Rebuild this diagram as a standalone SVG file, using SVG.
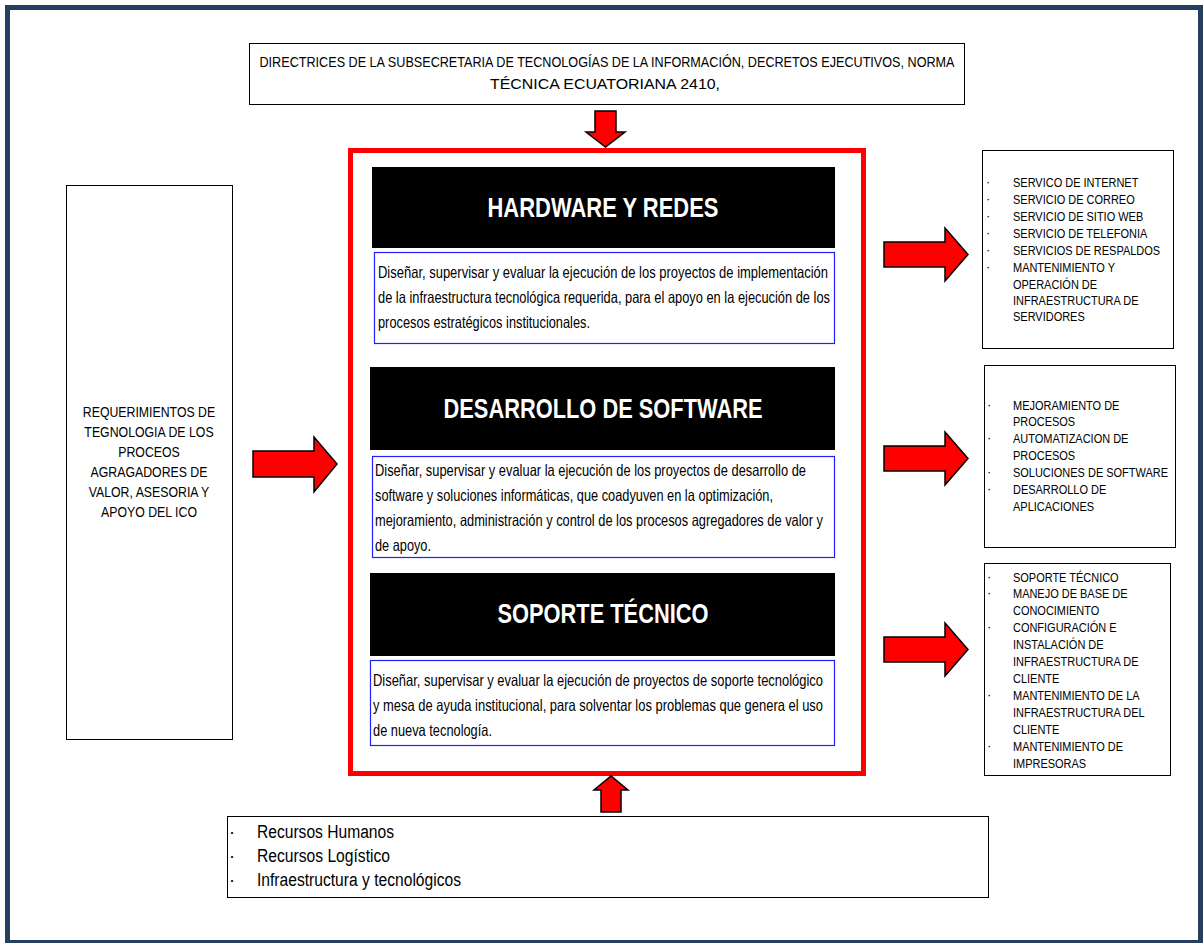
<svg xmlns="http://www.w3.org/2000/svg" width="1203" height="943" viewBox="0 0 1203 943">
  <style>
    .box { fill: #ffffff; stroke: #000000; stroke-width: 1; }
    .desc { fill: #ffffff; stroke: #2020ff; stroke-width: 1.2; }
    .head { fill: #000000; }
    .arrow { fill: #ff0000; stroke: #000000; stroke-width: 1.5; stroke-linejoin: miter; }
    text { font-family: "Liberation Sans Narrow", "Liberation Sans", Arial, sans-serif; fill: #000000; }
    .t15 { font-size: 15px; }
    .t14 { font-size: 14px; }
    .t13 { font-size: 13px; }
    .td { font-size: 16.5px; }
    .t18 { font-size: 18px; }
    .title { font-size: 28px; font-weight: bold; fill: #ffffff; text-anchor: middle; }
    .mid { text-anchor: middle; }
  </style>

  <!-- page frame -->
  <rect x="7.5" y="7.5" width="1193" height="935" fill="#ffffff" stroke="#243f60" stroke-width="5"/>

  <!-- directives box -->
  <g id="directrices">
    <rect class="box" x="249.5" y="43.5" width="715" height="61"/>
    <text class="t15 mid" x="607" y="67" textLength="695" lengthAdjust="spacingAndGlyphs">DIRECTRICES DE LA SUBSECRETARIA DE TECNOLOGÍAS DE LA INFORMACIÓN, DECRETOS EJECUTIVOS, NORMA</text>
    <text class="t15 mid" x="605" y="89" textLength="230" lengthAdjust="spacingAndGlyphs">TÉCNICA ECUATORIANA 2410,</text>
  </g>

  <!-- requirements box -->
  <g id="requerimientos">
    <rect class="box" x="66.5" y="185.5" width="166" height="554"/>
    <g class="t14" transform="translate(149,0) scale(0.88,1) translate(-149,0)">
      <text class="mid" x="149" y="417">REQUERIMIENTOS DE</text>
      <text class="mid" x="149" y="437">TEGNOLOGIA DE LOS</text>
      <text class="mid" x="149" y="457">PROCEOS</text>
      <text class="mid" x="149" y="477">AGRAGADORES DE</text>
      <text class="mid" x="149" y="497">VALOR, ASESORIA Y</text>
      <text class="mid" x="149" y="517">APOYO DEL ICO</text>
    </g>
  </g>

  <!-- central unit container -->
  <g id="unidad">
    <rect x="350.5" y="150.5" width="513" height="623" fill="#ffffff" stroke="#ff0000" stroke-width="5"/>
  </g>

  <g id="hardware">
    <rect class="head" x="372" y="167" width="463" height="81"/>
    <text class="title" x="603" y="217" textLength="231" lengthAdjust="spacingAndGlyphs">HARDWARE Y REDES</text>
    <rect class="desc" x="374.5" y="252.5" width="460" height="91"/>
    <text class="td" x="378" y="278" textLength="450" lengthAdjust="spacingAndGlyphs">Diseñar, supervisar y evaluar la ejecución de los proyectos de  implementación</text>
    <text class="td" x="378" y="303" textLength="452" lengthAdjust="spacingAndGlyphs">de la infraestructura tecnológica requerida, para el apoyo en la ejecución de los</text>
    <text class="td" x="378" y="328" textLength="212" lengthAdjust="spacingAndGlyphs">procesos estratégicos institucionales.</text>
  </g>

  <g id="desarrollo">
    <rect class="head" x="370" y="367" width="465" height="83"/>
    <text class="title" x="603" y="418" textLength="319" lengthAdjust="spacingAndGlyphs">DESARROLLO DE SOFTWARE</text>
    <rect class="desc" x="372.5" y="456.5" width="462" height="101"/>
    <text class="td" x="375" y="476" textLength="431" lengthAdjust="spacingAndGlyphs">Diseñar, supervisar y evaluar la ejecución de los proyectos de desarrollo de</text>
    <text class="td" x="375" y="501" textLength="398" lengthAdjust="spacingAndGlyphs">software y soluciones informáticas, que coadyuven en la optimización,</text>
    <text class="td" x="375" y="526" textLength="448" lengthAdjust="spacingAndGlyphs">mejoramiento, administración y control de los procesos agregadores de valor y</text>
    <text class="td" x="375" y="551" textLength="56" lengthAdjust="spacingAndGlyphs">de apoyo.</text>
  </g>

  <g id="soporte">
    <rect class="head" x="370" y="573" width="465" height="83"/>
    <text class="title" x="603" y="623" textLength="211" lengthAdjust="spacingAndGlyphs">SOPORTE TÉCNICO</text>
    <rect class="desc" x="370.5" y="660.5" width="464" height="85"/>
    <text class="td" x="373" y="686" textLength="450" lengthAdjust="spacingAndGlyphs">Diseñar, supervisar y evaluar la ejecución  de proyectos de soporte tecnológico</text>
    <text class="td" x="373" y="711" textLength="450" lengthAdjust="spacingAndGlyphs">y mesa de ayuda institucional, para solventar los problemas que genera  el uso</text>
    <text class="td" x="373" y="736" textLength="119" lengthAdjust="spacingAndGlyphs">de nueva tecnología.</text>
  </g>

  <!-- output boxes -->
  <g id="servicios-hardware">
    <rect class="box" x="982.5" y="150.5" width="191" height="198"/>
    <g class="t13">
      <text x="986" y="186">·</text>
      <text x="986" y="203">·</text>
      <text x="986" y="220">·</text>
      <text x="986" y="237">·</text>
      <text x="986" y="254">·</text>
      <text x="986" y="271">·</text>
    </g>
    <g class="t13" transform="translate(1013,0) scale(0.845,1) translate(-1013,0)">
      <text x="1013" y="187">SERVICO DE INTERNET</text>
      <text x="1013" y="204">SERVICIO DE CORREO</text>
      <text x="1013" y="221">SERVICIO DE SITIO WEB</text>
      <text x="1013" y="238">SERVICIO DE TELEFONIA</text>
      <text x="1013" y="255">SERVICIOS DE RESPALDOS</text>
      <text x="1013" y="272">MANTENIMIENTO Y</text>
      <text x="1013" y="289">OPERACIÓN DE</text>
      <text x="1013" y="305">INFRAESTRUCTURA DE</text>
      <text x="1013" y="321">SERVIDORES</text>
    </g>
  </g>

  <g id="servicios-software">
    <rect class="box" x="984.5" y="365.5" width="191" height="182"/>
    <g class="t13">
      <text x="987" y="409">·</text>
      <text x="987" y="442">·</text>
      <text x="987" y="476">·</text>
      <text x="987" y="493">·</text>
    </g>
    <g class="t13" transform="translate(1013,0) scale(0.845,1) translate(-1013,0)">
      <text x="1013" y="410">MEJORAMIENTO DE</text>
      <text x="1013" y="426">PROCESOS</text>
      <text x="1013" y="443">AUTOMATIZACION DE</text>
      <text x="1013" y="460">PROCESOS</text>
      <text x="1013" y="477">SOLUCIONES DE SOFTWARE</text>
      <text x="1013" y="494">DESARROLLO DE</text>
      <text x="1013" y="511">APLICACIONES</text>
    </g>
  </g>

  <g id="servicios-soporte">
    <rect class="box" x="984.5" y="563.5" width="186" height="212"/>
    <g class="t13">
      <text x="987" y="581">·</text>
      <text x="987" y="597">·</text>
      <text x="987" y="631">·</text>
      <text x="987" y="699">·</text>
      <text x="987" y="750">·</text>
    </g>
    <g class="t13" transform="translate(1013,0) scale(0.845,1) translate(-1013,0)">
      <text x="1013" y="582">SOPORTE TÉCNICO</text>
      <text x="1013" y="598">MANEJO DE BASE DE</text>
      <text x="1013" y="615">CONOCIMIENTO</text>
      <text x="1013" y="632">CONFIGURACIÓN E</text>
      <text x="1013" y="649">INSTALACIÓN DE</text>
      <text x="1013" y="666">INFRAESTRUCTURA DE</text>
      <text x="1013" y="683">CLIENTE</text>
      <text x="1013" y="700">MANTENIMIENTO DE LA</text>
      <text x="1013" y="717">INFRAESTRUCTURA DEL</text>
      <text x="1013" y="734">CLIENTE</text>
      <text x="1013" y="751">MANTENIMIENTO DE</text>
      <text x="1013" y="768">IMPRESORAS</text>
    </g>
  </g>

  <!-- resources box -->
  <g id="recursos">
    <rect class="box" x="227.5" y="816.5" width="761" height="81"/>
    <g class="t18">
      <text x="229" y="838">·</text>
      <text x="229" y="862">·</text>
      <text x="229" y="886">·</text>
      <text x="257" y="838" textLength="137" lengthAdjust="spacingAndGlyphs">Recursos Humanos</text>
      <text x="257" y="862" textLength="133" lengthAdjust="spacingAndGlyphs">Recursos Logístico</text>
      <text x="257" y="886" textLength="204" lengthAdjust="spacingAndGlyphs">Infraestructura y tecnológicos</text>
    </g>
  </g>

  <!-- block arrows -->
  <g id="connectors">
    <!-- directives down into the unit -->
    <polygon class="arrow" points="595,111 616,111 616,132 625,132 605.5,147 586,132 595,132"/>
    <!-- requirements into the unit -->
    <polygon class="arrow" points="253,451 314,451 314,437 337,464 314,492 314,477 253,477"/>
    <!-- unit out to each service list -->
    <polygon class="arrow" points="884,242 945,242 945,228 968,254.5 945,281 945,267 884,267"/>
    <polygon class="arrow" points="884,446 945,446 945,432 968,458.5 945,485 945,471 884,471"/>
    <polygon class="arrow" points="884,637 945,637 945,623 968,649.5 945,676 945,662 884,662"/>
    <!-- resources up into the unit -->
    <polygon class="arrow" points="601,812 621,812 621,790 628,790 611,776 594,790 601,790"/>
  </g>
</svg>
